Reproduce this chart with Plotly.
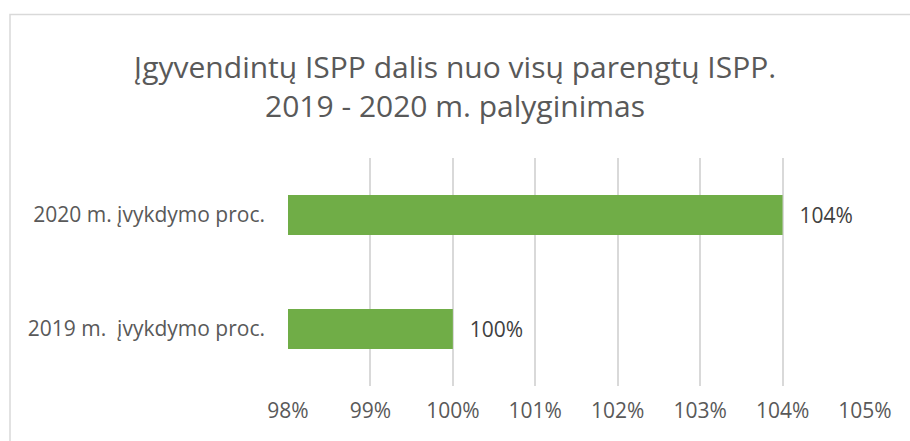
import plotly.graph_objects as go

categories = ["2019 m.  įvykdymo proc.", "2020 m. įvykdymo proc."]
values = [1.00, 1.04]
labels = ["100%", "104%"]
tick_vals = [0.98, 0.99, 1.00, 1.01, 1.02, 1.03, 1.04, 1.05]
tick_text = ["98%", "99%", "100%", "101%", "102%", "103%", "104%", "105%"]
title_text = "Įgyvendintų ISPP dalis nuo visų parengtų ISPP.<br>2019 - 2020 m. palyginimas"

FONT = "Open Sans, Liberation Sans, sans-serif"
W, H = 910, 441
L, R, T, B = 288, 45, 158, 55
PW, PH = W - L - R, H - T - B

fig = go.Figure(go.Bar(
    y=categories, x=values, orientation="h",
    marker=dict(color="#70AD47", line=dict(width=0)),
    text=labels, texttemplate="\u2002\u2009%{text}", textposition="outside",
    textfont=dict(size=21, color="#404040", family=FONT),
    cliponaxis=False,
    hoverinfo="skip",
))

fig.update_layout(
    width=W, height=H,
    margin=dict(l=L, r=R, t=T, b=B),
    paper_bgcolor="white", plot_bgcolor="white",
    bargap=0.65,
    showlegend=False,
    title=dict(text=title_text, x=0.5, xanchor="center", y=0.823, yanchor="middle",
               font=dict(size=30, color="#595959", family=FONT)),
    xaxis=dict(range=[0.98, 1.05], tickvals=tick_vals, ticktext=tick_text,
               showgrid=True, gridcolor="#D9D9D9", gridwidth=1.5,
               zeroline=False, showline=False, ticks="",
               ticklabelstandoff=10,
               tickfont=dict(size=21, color="#595959", family=FONT)),
    yaxis=dict(showgrid=False, zeroline=False, showline=False, ticks="",
               ticklabelstandoff=22,
               tickfont=dict(size=21, color="#595959", family=FONT)),
    shapes=[dict(type="rect", xref="paper", yref="paper",
                 x0=(10 - L) / PW, x1=(W + 10 - L) / PW,
                 y0=-(B + 10) / PH, y1=(H - B - 14.5) / PH,
                 line=dict(color="#D9D9D9", width=1.5), layer="below")],
)

fig.write_html("out.html", config={"displayModeBar": False},
               post_script="document.body.style.margin='0';")
